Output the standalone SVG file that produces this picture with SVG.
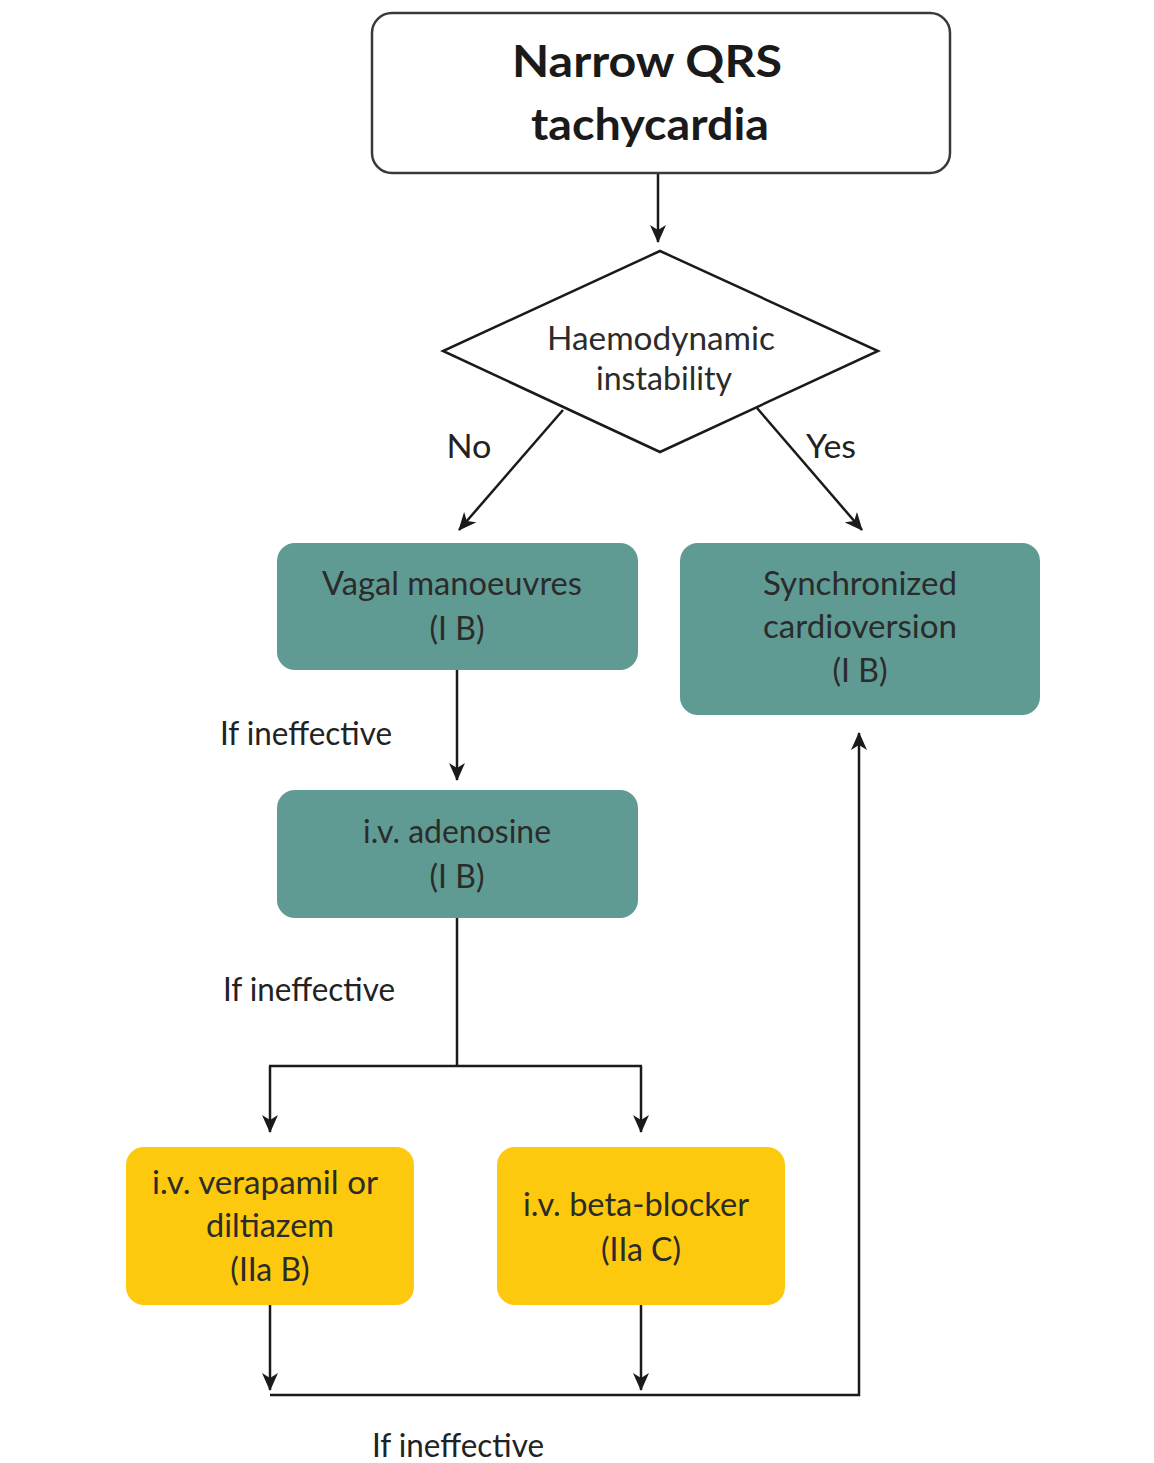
<svg xmlns="http://www.w3.org/2000/svg" width="1154" height="1463" viewBox="0 0 1154 1463">
<defs>
<marker id="ah" viewBox="0 0 18 16" refX="17" refY="8" markerWidth="18" markerHeight="16" markerUnits="userSpaceOnUse" orient="auto">
<path d="M0,0 L18,8 L0,16 L5,8 Z" fill="#1a1a1a"/>
</marker>
<style>
text{font-family:Lato,"Open Sans","Liberation Sans",sans-serif;fill:#2b2b2b;text-anchor:middle}
.t{font-size:32px}
.lbl{font-size:32px;fill:#222}
.title{font-size:44px;font-weight:bold;fill:#1a1a1a}
.teal{fill:#5f9b93}
.yel{fill:#fcc90e}
.ln{stroke:#1a1a1a;stroke-width:2.5;fill:none}
</style>
</defs>
<rect width="1154" height="1463" fill="#fff"/>
<g id="connectors">
<line class="ln" x1="658" y1="174" x2="658" y2="242" marker-end="url(#ah)"/>
<line class="ln" x1="563" y1="410" x2="459" y2="530" marker-end="url(#ah)"/>
<line class="ln" x1="757" y1="408" x2="862" y2="530" marker-end="url(#ah)"/>
<line class="ln" x1="457" y1="670" x2="457" y2="780" marker-end="url(#ah)"/>
<polyline class="ln" points="457,918 457,1066"/>
<line class="ln" x1="269" y1="1066" x2="642" y2="1066"/>
<line class="ln" x1="270" y1="1066" x2="270" y2="1132" marker-end="url(#ah)"/>
<line class="ln" x1="641" y1="1066" x2="641" y2="1132" marker-end="url(#ah)"/>
<line class="ln" x1="270" y1="1305" x2="270" y2="1390" marker-end="url(#ah)"/>
<line class="ln" x1="641" y1="1305" x2="641" y2="1390" marker-end="url(#ah)"/>
<polyline class="ln" points="270,1395 859,1395 859,733" marker-end="url(#ah)"/>
<text class="lbl" x="469" y="458" textLength="45" lengthAdjust="spacingAndGlyphs">No</text>
<text class="lbl" x="831" y="458" textLength="50" lengthAdjust="spacingAndGlyphs">Yes</text>
<text class="lbl" x="306" y="745" textLength="172" lengthAdjust="spacingAndGlyphs">If ineffective</text>
<text class="lbl" x="309" y="1001" textLength="172" lengthAdjust="spacingAndGlyphs">If ineffective</text>
<text class="lbl" x="458" y="1457" textLength="172" lengthAdjust="spacingAndGlyphs">If ineffective</text>
</g>
<g id="start">
<rect x="372" y="13" width="578" height="160" rx="20" fill="#fff" stroke="#3a3a3a" stroke-width="2.5"/>
<text class="title" x="647" y="77" textLength="270" lengthAdjust="spacingAndGlyphs">Narrow QRS</text>
<text class="title" x="650" y="140" textLength="238" lengthAdjust="spacingAndGlyphs">tachycardia</text>
</g>
<g id="decision">
<polygon points="660,251 878,351 660,452 443,351" fill="#fff" stroke="#1a1a1a" stroke-width="2.5"/>
<text class="t" x="661" y="350" textLength="228" lengthAdjust="spacingAndGlyphs">Haemodynamic</text>
<text class="t" x="664" y="390" textLength="136" lengthAdjust="spacingAndGlyphs">instability</text>
</g>
<g id="vagal">
<rect class="teal" x="277" y="543" width="361" height="127" rx="18"/>
<text class="t" x="452" y="595" textLength="260" lengthAdjust="spacingAndGlyphs">Vagal manoeuvres</text>
<text class="t" x="457" y="640">(I B)</text>
</g>
<g id="cardioversion">
<rect class="teal" x="680" y="543" width="360" height="172" rx="18"/>
<text class="t" x="860" y="595" textLength="194" lengthAdjust="spacingAndGlyphs">Synchronized</text>
<text class="t" x="860" y="638" textLength="194" lengthAdjust="spacingAndGlyphs">cardioversion</text>
<text class="t" x="860" y="682">(I B)</text>
</g>
<g id="adenosine">
<rect class="teal" x="277" y="790" width="361" height="128" rx="18"/>
<text class="t" x="457" y="843" textLength="188" lengthAdjust="spacingAndGlyphs">i.v. adenosine</text>
<text class="t" x="457" y="888">(I B)</text>
</g>
<g id="verapamil">
<rect class="yel" x="126" y="1147" width="288" height="158" rx="18"/>
<text class="t" x="265" y="1194" textLength="226" lengthAdjust="spacingAndGlyphs">i.v. verapamil or</text>
<text class="t" x="270" y="1237" textLength="128" lengthAdjust="spacingAndGlyphs">diltiazem</text>
<text class="t" x="270" y="1281">(IIa B)</text>
</g>
<g id="betablocker">
<rect class="yel" x="497" y="1147" width="288" height="158" rx="18"/>
<text class="t" x="636" y="1216" textLength="226" lengthAdjust="spacingAndGlyphs">i.v. beta-blocker</text>
<text class="t" x="641" y="1261">(IIa C)</text>
</g>
</svg>
